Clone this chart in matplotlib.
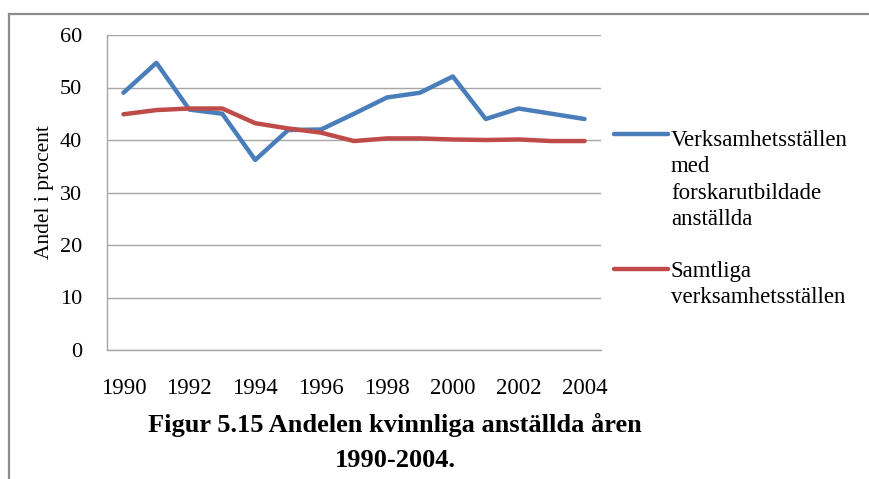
import matplotlib
matplotlib.use('Agg')
import matplotlib.pyplot as plt
from matplotlib.lines import Line2D

plt.rcParams['font.family'] = ['Liberation Serif', 'DejaVu Serif']

# data
years = list(range(1990, 2005))
forskar = [49.0, 54.7, 45.8, 45.0, 36.2, 41.9, 42.0, 45.0, 48.1, 49.0,
           52.1, 44.0, 46.0, 45.0, 44.0]
samtliga = [44.9, 45.7, 46.0, 46.0, 43.2, 42.2, 41.4, 39.8, 40.3, 40.3,
            40.1, 40.0, 40.1, 39.8, 39.8]
yticks = [0, 10, 20, 30, 40, 50, 60]
xlabels = [str(y) for y in years[::2]]

BLUE = '#4A7EBB'
RED = '#BE4B48'
GRID = '#A6A6A6'
W, H = 869, 479


def fx(px):
    return px / W


def fy(py):
    # pixel row from top -> figure fraction
    return 1 - py / H


fig = plt.figure(figsize=(8.69, 4.79), dpi=100)
fig.patch.set_facecolor('white')

# outer frame (left + top only)
fig.add_artist(Line2D([fx(9), fx(9)], [0, fy(14)], color='#8C8C8C', lw=1.6))
fig.add_artist(Line2D([fx(9), 1], [fy(14), fy(14)], color='#8C8C8C', lw=1.6))

ax = fig.add_axes([fx(107), fy(350), 494 / W, 315 / H])
x = list(range(len(years)))
ax.plot(x, forskar, color=BLUE, lw=3.2, solid_capstyle='round', zorder=3)
ax.plot(x, samtliga, color=RED, lw=3.2, solid_capstyle='round', zorder=3)

ax.set_xlim(-0.5, len(years) - 0.5)
ax.set_ylim(0, 60)
ax.set_yticks(yticks)
ax.set_yticklabels([str(t) for t in yticks], fontsize=16)
ax.set_xticks(x[::2])
ax.set_xticklabels(xlabels, fontsize=16.5)
ax.tick_params(axis='both', length=0, colors='black')
ax.tick_params(axis='y', pad=18)
ax.tick_params(axis='x', pad=20)
ax.grid(axis='y', color=GRID, lw=1.0)
ax.set_axisbelow(True)
for side in ['top', 'right']:
    ax.spines[side].set_visible(False)
for side in ['left', 'bottom']:
    ax.spines[side].set_color(GRID)
    ax.spines[side].set_linewidth(1.0)
ax.set_ylabel('Andel i procent', fontsize=15.5, labelpad=4)

# legend drawn by hand to match layout
legend = [
    (BLUE, 134, ['Verksamhetsställen', 'med', 'forskarutbildade', 'anställda'], 146),
    (RED, 269, ['Samtliga', 'verksamhetsställen'], 277),
]
for color, ly, lines, base in legend:
    fig.add_artist(Line2D([fx(614), fx(668)], [fy(ly), fy(ly)], color=color, lw=3.2,
                          solid_capstyle='round'))
    for i, s in enumerate(lines):
        fig.text(fx(671), fy(base + 26.3 * i), s, ha='left', va='baseline', fontsize=16.5)

fig.text(fx(395), fy(432), 'Figur 5.15 Andelen kvinnliga anställda åren',
         ha='center', va='baseline', fontsize=19, fontweight='bold')
fig.text(fx(395), fy(467), '1990-2004.',
         ha='center', va='baseline', fontsize=19, fontweight='bold')

fig.savefig('out.png', dpi=100, facecolor='white')
